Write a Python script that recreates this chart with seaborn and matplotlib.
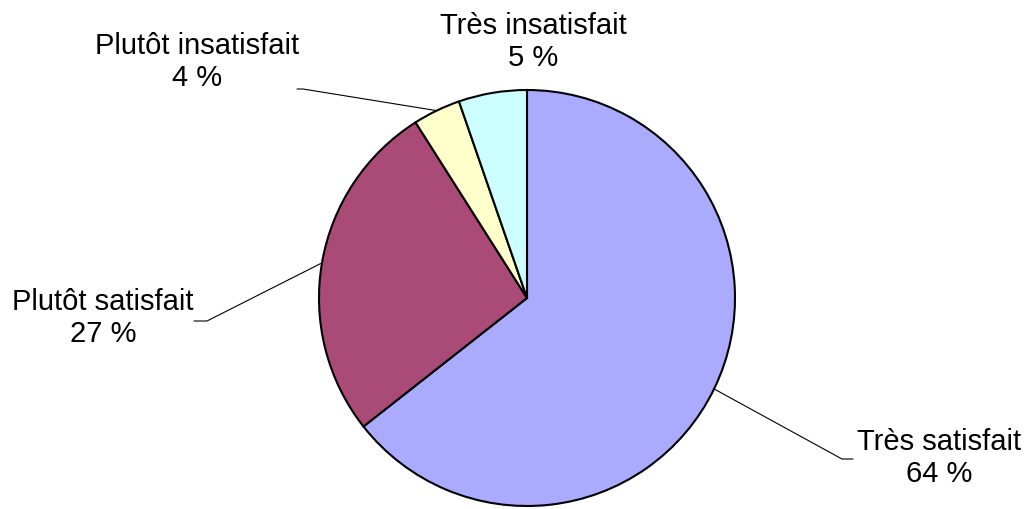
import numpy as np
import matplotlib
matplotlib.use("Agg")
import matplotlib.pyplot as plt
import seaborn as sns

# satisfaction share (clockwise from 12 o'clock)
labels = ['Très satisfait', 'Plutôt satisfait', 'Plutôt insatisfait', 'Très insatisfait']
values = [64.4, 26.6, 3.7, 5.3]
colors = ['#AAAAFF', '#A94B76', '#FFFFCC', '#CCFFFF']

sns.set_style('white')
plt.rcParams['font.family'] = ['Liberation Sans', 'DejaVu Sans']

W, H = 1030, 510
fig = plt.figure(figsize=(W / 100, H / 100), dpi=100)
ax = fig.add_axes([0, 0, 1, 1])
ax.set_xlim(0, W)
ax.set_ylim(0, H)
ax.axis('off')

cx, cy, r = 527, H - 299, 208
wedges, _ = ax.pie(values, colors=colors, startangle=90, counterclock=False,
                   center=(cx, cy), radius=r,
                   wedgeprops=dict(edgecolor='black', linewidth=1.5))
ax.set_xlim(0, W)
ax.set_ylim(0, H)
ax.set_aspect('equal')

# label text position (pixel, top-down) and leader elbow / end points
text_pos = [(939, 458), (103, 318), (197, 62), (533, 42)]
elbows = [[(842, 460), (853, 460)],
          [(207, 322), (194, 322)],
          [(303, 90), (297, 90)],
          None]

for w, lab, v, (tx, ty), el in zip(wedges, labels, values, text_pos, elbows):
    ax.text(tx, H - ty, f'{lab}\n{v:.0f} %', ha='center', va='center',
            fontsize=21, linespacing=1.2, color='black')
    if el is None:
        continue
    mid = np.deg2rad((w.theta1 + w.theta2) / 2)
    px, py = cx + r * np.cos(mid), cy + r * np.sin(mid)
    xs = [px] + [p[0] for p in el]
    ys = [py] + [H - p[1] for p in el]
    ax.plot(xs, ys, color='black', linewidth=0.8)

fig.savefig('out.png', dpi=100)
